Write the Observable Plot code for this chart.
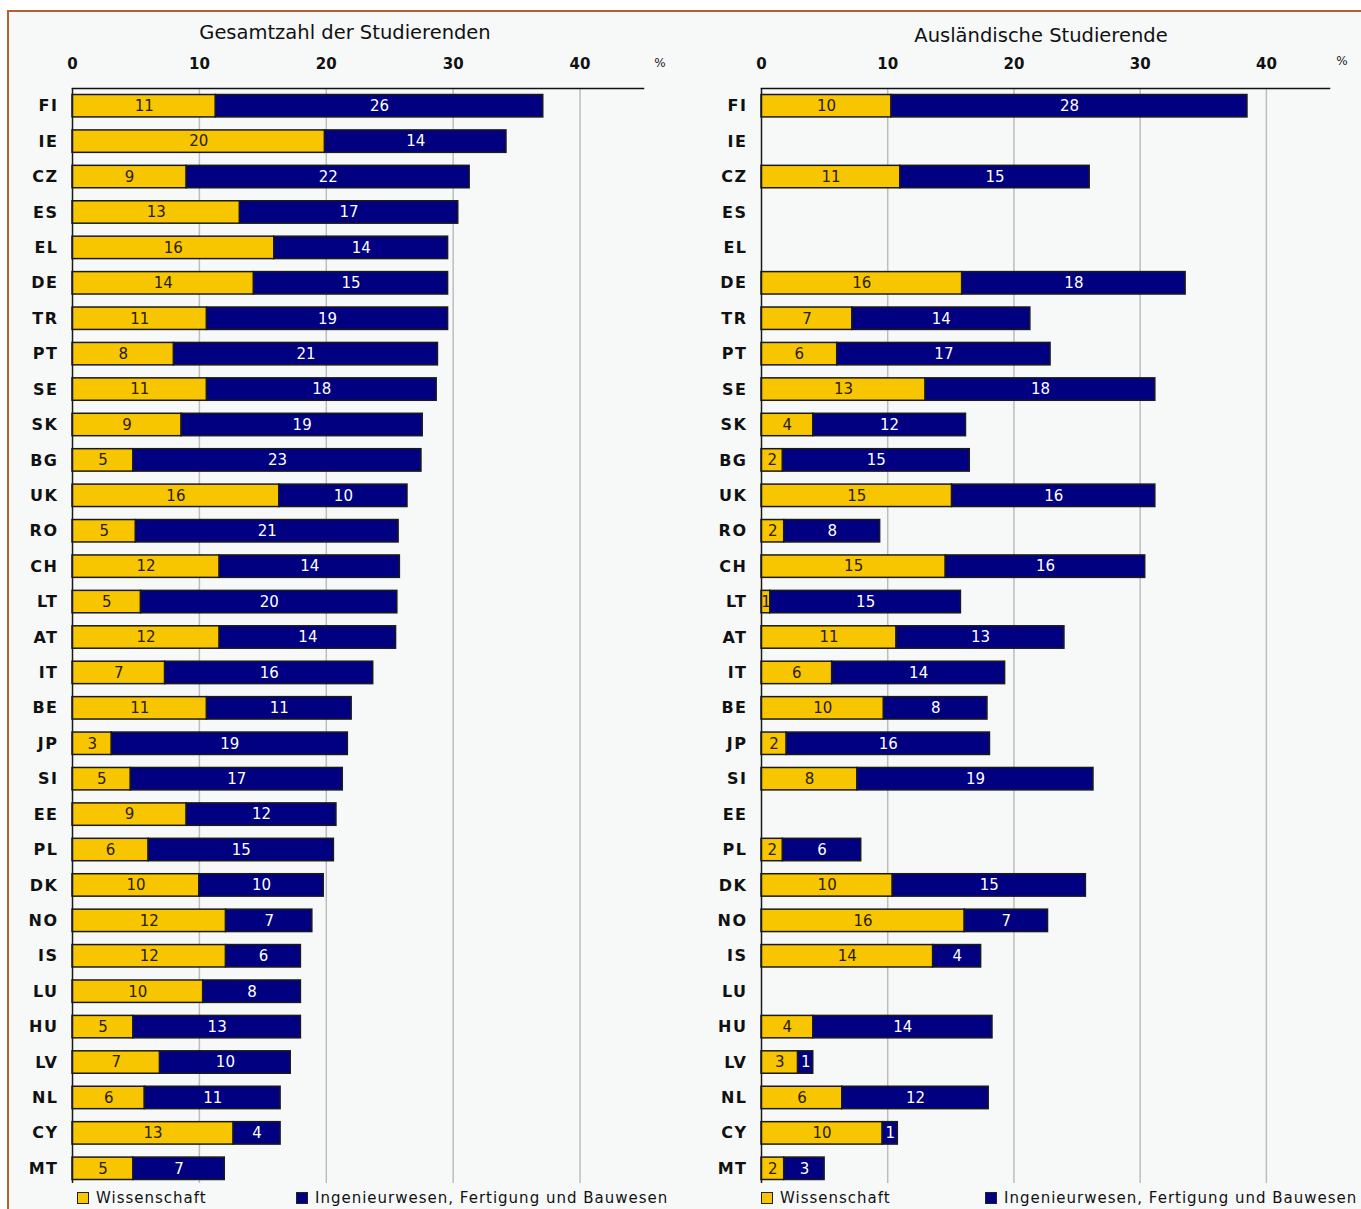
<!DOCTYPE html>
<html>
<head>
<meta charset="utf-8">
<script src="https://cdn.jsdelivr.net/npm/d3@7"></script>
<script src="https://cdn.jsdelivr.net/npm/@observablehq/plot@0.6"></script>
<style>
  html, body { margin: 0; padding: 0; background: #ffffff; }
  #wrap { position: relative; width: 1361px; height: 1209px; overflow: hidden; font-family: "DejaVu Sans", sans-serif; }
  #frame { position: absolute; left: 7px; top: 10px; width: 1360px; height: 1205px; background: #f7f9f9; border-top: 2px solid #b5612f; border-left: 2px solid #b5612f; }
  .title { position: absolute; font-size: 19.5px; color: #111; transform: translate(-50%, -50%); white-space: nowrap; }
  .pct { position: absolute; font-size: 12px; color: #222; transform: translate(-50%, -50%); }
  .panel { position: absolute; top: 45px; }
  .legend { position: absolute; top: 1189px; font-size: 15px; letter-spacing: 1px; color: #111; white-space: nowrap; display: flex; align-items: center; }
  .sw { display: inline-block; width: 10px; height: 10px; border: 1.5px solid #222; margin-right: 7px; }
</style>
</head>
<body>
<div id="wrap">
  <div id="frame"></div>
  <div class="title" style="left:345px; top:32px;">Gesamtzahl der Studierenden</div>
  <div class="title" style="left:1041px; top:35px;">Ausländische Studierende</div>
  <div class="pct" style="left:660px; top:63px;">%</div>
  <div class="pct" style="left:1342px; top:61px;">%</div>
  <div id="left" class="panel" style="left:0px;"></div>
  <div id="right" class="panel" style="left:690px;"></div>
  <div class="legend" style="left:77px;"><span class="sw" style="background:#f7c600"></span>Wissenschaft</div>
  <div class="legend" style="left:296px;"><span class="sw" style="background:#000080"></span>Ingenieurwesen, Fertigung und Bauwesen</div>
  <div class="legend" style="left:761px;"><span class="sw" style="background:#f7c600"></span>Wissenschaft</div>
  <div class="legend" style="left:985px;"><span class="sw" style="background:#000080"></span>Ingenieurwesen, Fertigung und Bauwesen</div>
</div>
<script>
// Countries (top to bottom)
const countries = ["FI","IE","CZ","ES","EL","DE","TR","PT","SE","SK","BG","UK","RO","CH","LT","AT","IT","BE","JP","SI","EE","PL","DK","NO","IS","LU","HU","LV","NL","CY","MT"];
const categories = ["Wissenschaft", "Ingenieurwesen, Fertigung und Bauwesen"];
const xTicks = [0, 10, 20, 30, 40];

// Gesamtzahl der Studierenden (%)
const totalScience =     [11.3,19.9, 9.0,13.2,15.9,14.3,10.6, 8.0,10.6, 8.6, 4.8,16.3, 5.0,11.6, 5.4,11.6, 7.3,10.6, 3.1, 4.6, 9.0, 6.0,10.0,12.1,12.1,10.3, 4.8, 6.9, 5.7,12.7, 4.8];
const totalEngineering = [25.8,14.3,22.3,17.2,13.7,15.3,19.0,20.8,18.1,19.0,22.7,10.1,20.7,14.2,20.2,13.9,16.4,11.4,18.6,16.7,11.8,14.6, 9.8, 6.8, 5.9, 7.7,13.2,10.3,10.7, 3.7, 7.2];

// Ausländische Studierende (%) — null = no data
const foreignScience =     [10.3,null,11.0,null,null,15.9, 7.2, 6.0,13.0, 4.1, 1.7,15.1, 1.8,14.6, 0.7,10.7, 5.6, 9.7, 2.0, 7.6,null, 1.7,10.4,16.1,13.6,null, 4.1, 2.9, 6.4, 9.6, 1.8];
const foreignEngineering = [28.2,null,15.0,null,null,17.7,14.1,16.9,18.2,12.1,14.8,16.1, 7.6,15.8,15.1,13.3,13.7, 8.2,16.1,18.7,null, 6.2,15.3, 6.6, 3.8,null,14.2, 1.2,11.6, 1.2, 3.2];

const colors = ["#f7c600", "#000080"];
const textColors = ["#2a2000", "#ffffff"];

function rows(sci, eng) {
  const out = [];
  countries.forEach((c, i) => {
    if (sci[i] != null) out.push({country: c, cat: categories[0], value: sci[i]});
    if (eng[i] != null) out.push({country: c, cat: categories[1], value: eng[i]});
  });
  return out;
}

function panel(data, width, marginLeft, marginRight) {
  const svg = Plot.plot({
    width,
    height: 1141,
    marginTop: 43,
    marginBottom: 0,
    marginLeft,
    marginRight,
    style: {background: "transparent", fontFamily: "DejaVu Sans, sans-serif", overflow: "visible"},
    x: {domain: [0, 45], ticks: xTicks, axis: null, label: null},
    y: {domain: countries, padding: 0, round: false, axis: null, label: null},
    color: {domain: categories, range: colors},
    marks: [
      Plot.gridX(xTicks.filter(t => t > 0), {stroke: "#bdbdbd", strokeOpacity: 1, strokeWidth: 1.5, insetBottom: 3}),
      Plot.axisX(xTicks, {anchor: "top", label: null, tickSize: 0, tickPadding: 20, fontSize: 15, fontWeight: "bold", fill: "#111"}),
      Plot.axisY({label: null, tickSize: 0, tickPadding: 14, fontSize: 16, fontWeight: "bold", fill: "#111"}),
      Plot.barX(data, Plot.stackX({x: "value", y: "country", fill: "cat", stroke: "#1a1a1a", strokeWidth: 1.5, insetTop: 6.5, insetBottom: 6.5})),
      Plot.text(data, Plot.stackX({
        x: "value", y: "country", z: "cat",
        text: d => String(Math.round(d.value)),
        fill: d => textColors[categories.indexOf(d.cat)],
        fontSize: 15
      })),
      Plot.ruleX([0], {stroke: "#1a1a1a", strokeWidth: 1.5, insetBottom: 3}),
      Plot.frame({anchor: "top", stroke: "#111", strokeWidth: 1.5})
    ]
  });
  d3.select(svg).selectAll('g[aria-label="y-axis tick label"] text').attr("letter-spacing", "1.5px");
  return svg;
}

document.getElementById("left").appendChild(panel(rows(totalScience, totalEngineering), 690, 72, 47));
document.getElementById("right").appendChild(panel(rows(foreignScience, foreignEngineering), 671, 71, 32));
</script>
</body>
</html>
